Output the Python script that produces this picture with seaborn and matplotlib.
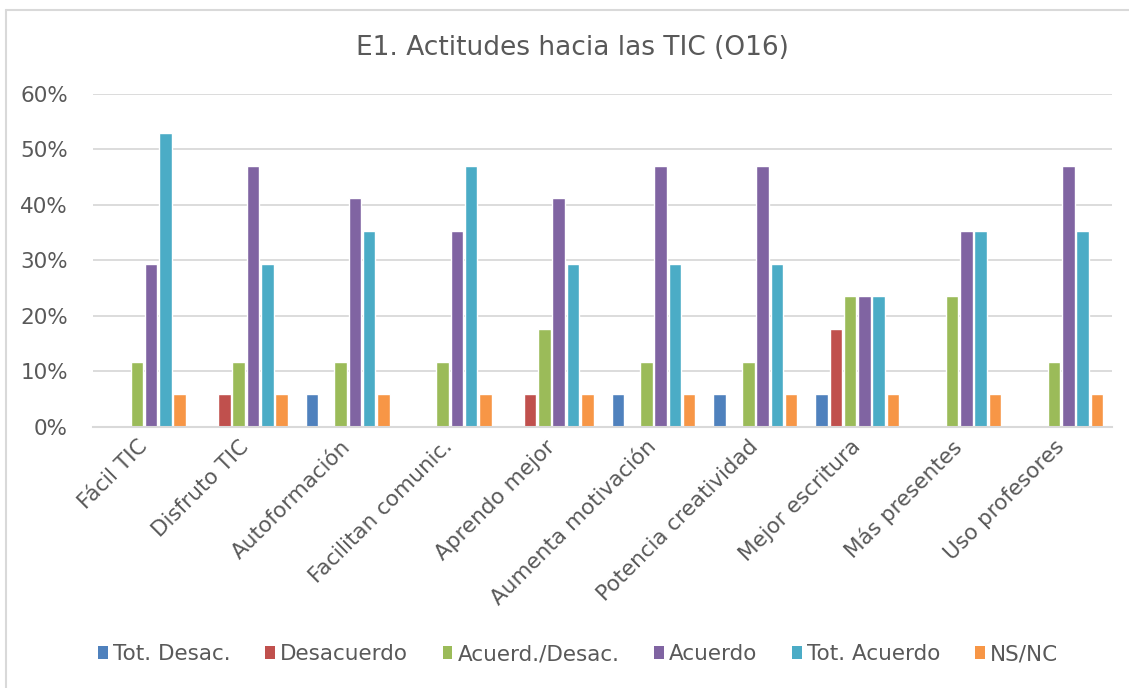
import matplotlib
matplotlib.use("Agg")
import matplotlib.pyplot as plt
import seaborn as sns
import pandas as pd
from matplotlib.lines import Line2D
from matplotlib.patches import Patch
from matplotlib.ticker import PercentFormatter

# datos (proporciones, n = 17)
categorias = ["Fácil TIC", "Disfruto TIC", "Autoformación", "Facilitan comunic.",
              "Aprendo mejor", "Aumenta motivación", "Potencia creatividad",
              "Mejor escritura", "Más presentes", "Uso profesores"]
series = ["Tot. Desac.", "Desacuerdo", "Acuerd./Desac.", "Acuerdo", "Tot. Acuerdo", "NS/NC"]

tot_desac = [0, 0, 5.88, 0, 0, 5.88, 5.88, 5.88, 0, 0]
desacuerdo = [0, 5.88, 0, 0, 5.88, 0, 0, 17.65, 0, 0]
acuerd_desac = [11.76, 11.76, 11.76, 11.76, 17.65, 11.76, 11.76, 23.53, 23.53, 11.76]
acuerdo = [29.41, 47.06, 41.18, 35.29, 41.18, 47.06, 47.06, 23.53, 35.29, 47.06]
tot_acuerdo = [52.94, 29.41, 35.29, 47.06, 29.41, 29.41, 29.41, 23.53, 35.29, 35.29]
ns_nc = [5.88] * 10

colores = ["#4F81BD", "#C0504D", "#9BBB59", "#8064A2", "#4BACC6", "#F79646"]
gris = "#595959"

valores = [tot_desac, desacuerdo, acuerd_desac, acuerdo, tot_acuerdo, ns_nc]
filas = []
for s, vals in zip(series, valores):
    for c, v in zip(categorias, vals):
        filas.append({"Categoria": c, "Serie": s, "Valor": v / 100})
df = pd.DataFrame(filas)

sns.set_style("white")
plt.rcParams["font.family"] = ["DejaVu Sans"]

fig = plt.figure(figsize=(11.29, 6.88), dpi=100)
ax = fig.add_axes([0.0824, 0.3794, 0.9026, 0.484])

sns.barplot(data=df, x="Categoria", y="Valor", hue="Serie", order=categorias,
            hue_order=series, palette=colores, saturation=1, width=0.84, gap=0.12,
            edgecolor="white", linewidth=1, ax=ax, legend=False)

ax.set_ylim(0, 0.6)
ax.set_yticks([0, 0.1, 0.2, 0.3, 0.4, 0.5, 0.6])
ax.yaxis.set_major_formatter(PercentFormatter(1.0, decimals=0))
ax.grid(axis="y", color="#D9D9D9", linewidth=1.3)
ax.set_axisbelow(True)
for lado in ["top", "right", "left"]:
    ax.spines[lado].set_visible(False)
ax.spines["bottom"].set_color("#D9D9D9")
ax.spines["bottom"].set_linewidth(1.5)
ax.set_xlabel("")
ax.set_ylabel("")
ax.tick_params(axis="both", length=0, labelsize=15.5, labelcolor=gris)
ax.tick_params(axis="y", pad=18)
ax.tick_params(axis="x", pad=12)
plt.setp(ax.get_xticklabels(), rotation=45, ha="right", va="center", rotation_mode="anchor")

fig.text(0.507, 0.93, "E1. Actitudes hacia las TIC (O16)", ha="center", va="center",
         fontsize=19, color=gris)

handles = [Patch(facecolor=c, edgecolor="none") for c in colores]
fig.legend(handles, series, loc="center", bbox_to_anchor=(0.512, 0.049), ncol=6,
           frameon=False, fontsize=15.5, labelcolor=gris, handlelength=0.45,
           handleheight=0.55, handletextpad=0.25, columnspacing=1.6)

# borde del área del gráfico
fig.add_artist(Line2D([6 / 1129, 6 / 1129], [0, 1 - 10 / 688], color="#D9D9D9", lw=1.5))
fig.add_artist(Line2D([6 / 1129, 1], [1 - 10 / 688, 1 - 10 / 688], color="#D9D9D9", lw=1.5))

fig.savefig("out.png", dpi=100)
